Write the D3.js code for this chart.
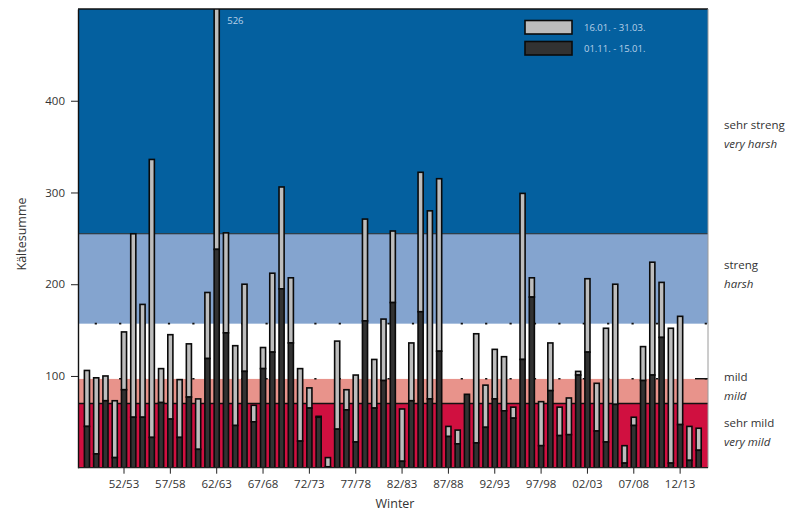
<!DOCTYPE html>
<html>
<head>
<meta charset="utf-8">
<script src="https://cdn.jsdelivr.net/npm/d3@7"></script>
<style>
  body { margin: 0; background: #fff; }
  svg text { font-family: "Open Sans", "Noto Sans", sans-serif; }
</style>
</head>
<body>
<svg id="chart" width="794" height="512"></svg>
<script>
const winters = ["48/49","49/50","50/51","51/52","52/53","53/54","54/55","55/56","56/57","57/58",
  "58/59","59/60","60/61","61/62","62/63","63/64","64/65","65/66","66/67","67/68",
  "68/69","69/70","70/71","71/72","72/73","73/74","74/75","75/76","76/77","77/78",
  "78/79","79/80","80/81","81/82","82/83","83/84","84/85","85/86","86/87","87/88",
  "88/89","89/90","90/91","91/92","92/93","93/94","94/95","95/96","96/97","97/98",
  "98/99","99/00","00/01","01/02","02/03","03/04","04/05","05/06","06/07","07/08",
  "08/09","09/10","10/11","11/12","12/13","13/14","14/15"];
// 01.11. - 15.01. (dark)
const early = [45,15,73,11,85,55,55,33,71,53,
  33,77,20,119,238,147,46,105,50,108,
  126,195,136,29,65,55,1,42,63,28,
  160,65,95,180,7,73,170,75,127,34,
  26,80,27,44,75,62,54,118,186,24,
  84,35,36,101,126,40,28,69,5,46,
  95,101,142,5,47,8,19];
// 16.01. - 31.03. (light)
const late = [61,83,27,62,63,200,123,303,37,92,
  63,58,55,72,288,109,87,95,18,23,
  86,111,71,79,22,1,10,96,22,73,
  111,53,67,78,57,63,152,205,188,11,
  15,0,119,46,54,59,12,181,21,48,
  52,31,40,4,80,52,124,131,19,9,
  37,123,60,147,118,37,24];
const tickWinters = ["52/53","57/58","62/63","67/68","72/73","77/78","82/83","87/88","92/93","97/98","02/03","07/08","12/13"];
const yTicks = [100,200,300,400];
const bandBreaks = [0,70,97,157,255,500];
const bandColors = ["#d01040","#e8938b","#ffffff","#84a4cf","#04609f"];
const classDe = ["sehr mild","mild","","streng","sehr streng"];
const classEn = ["very mild","mild","","harsh","very harsh"];
const legendLabels = ["16.01. - 31.03.","01.11. - 15.01."];

const svg = d3.select("#chart");
const L = 78, R = 708, T = 9, B = 467.7;

const x = d3.scaleBand().domain(winters).range([82.3, 703.3]).paddingInner(0.45).paddingOuter(0.225);
const y = d3.scaleLinear().domain([0, 500]).range([B, T]);

svg.append("defs").append("clipPath").attr("id","plotclip")
  .append("rect").attr("x", L).attr("y", T).attr("width", R - L).attr("height", B - T);

const g = svg.append("g");

// background bands
const bands = d3.range(bandColors.length).map(i => ({lo: bandBreaks[i], hi: bandBreaks[i+1], c: bandColors[i]}));
g.selectAll("rect.band").data(bands).join("rect")
  .attr("class","band")
  .attr("x", L).attr("width", R - L)
  .attr("y", d => y(d.hi)).attr("height", d => y(d.lo) - y(d.hi))
  .attr("fill", d => d.c);

// dotted boundaries
[97,157].forEach(v => {
  g.append("line").attr("x1", 94.7).attr("x2", R).attr("y1", y(v)).attr("y2", y(v))
    .attr("stroke","#111").attr("stroke-width",1.6).attr("stroke-dasharray","2.2,22.2");
});
g.append("line").attr("x1", 695).attr("x2", R).attr("y1", y(97)).attr("y2", y(97))
  .attr("stroke","#111").attr("stroke-width",1.4);
// solid boundaries
g.append("line").attr("x1", L).attr("x2", R).attr("y1", y(255)).attr("y2", y(255))
  .attr("stroke","#2a2a2a").attr("stroke-width",1.2);
g.append("line").attr("x1", L).attr("x2", R).attr("y1", y(70)).attr("y2", y(70))
  .attr("stroke","#111").attr("stroke-width",1.5);

// bars
const data = winters.map((w, i) => ({w, e: early[i], l: late[i]}));
const bars = g.append("g").attr("clip-path","url(#plotclip)");
bars.selectAll("rect.late").data(data).join("rect")
  .attr("class","late")
  .attr("x", d => x(d.w)).attr("width", x.bandwidth())
  .attr("y", d => y(d.e + d.l)).attr("height", d => y(d.e) - y(d.e + d.l))
  .attr("fill","#bdbdbd").attr("stroke","#0a0a0a").attr("stroke-width",1.6);
bars.selectAll("rect.early").data(data).join("rect")
  .attr("class","early")
  .attr("x", d => x(d.w)).attr("width", x.bandwidth())
  .attr("y", d => y(d.e)).attr("height", d => y(0) - y(d.e))
  .attr("fill","#323232").attr("stroke","#0a0a0a").attr("stroke-width",1.6);

// clipped value label
data.filter(d => d.e + d.l > 500).forEach(d => {
  g.append("text").attr("x", x(d.w) + x.bandwidth() + 8).attr("y", 24)
    .attr("font-size", 9.5).attr("fill","#b9d0e8").text(d3.format("d")(d.e + d.l));
});

// frame
g.append("line").attr("x1", L).attr("x2", R).attr("y1", T).attr("y2", T).attr("stroke","#111").attr("stroke-width",1.6);
g.append("line").attr("x1", R).attr("x2", R).attr("y1", T).attr("y2", B).attr("stroke","#9a9a9a").attr("stroke-width",1);

// axes
const yAxis = g.append("g").attr("transform", `translate(${L},0)`)
  .call(d3.axisLeft(y).tickValues(yTicks).tickSizeInner(7).tickSizeOuter(0).tickPadding(6));
yAxis.select(".domain").attr("stroke","#111").attr("stroke-width",1.4);
yAxis.selectAll(".tick line").attr("stroke","#222");
yAxis.selectAll(".tick text").attr("font-size",11.5).attr("fill","#333").attr("font-family","Open Sans");

const xAxis = g.append("g").attr("transform", `translate(0,${B})`)
  .call(d3.axisBottom(x).tickValues(tickWinters).tickSizeInner(6).tickSizeOuter(0).tickPadding(6));
xAxis.select(".domain").attr("d", `M${L},0H${R}`).attr("stroke","#222").attr("stroke-width",1.2);
xAxis.selectAll(".tick line").attr("stroke","#222");
xAxis.selectAll(".tick text").attr("font-size",11.5).attr("fill","#333").attr("font-family","Open Sans");

// axis titles
svg.append("text").attr("transform", `translate(26,234) rotate(-90)`).attr("text-anchor","middle")
  .attr("font-size",12.5).attr("fill","#333").text("Kältesumme");
svg.append("text").attr("x", 395).attr("y", 508).attr("text-anchor","middle")
  .attr("font-size",12.5).attr("fill","#333").text("Winter");

// class labels on right
const labelY = [423, 377, null, 265, 125];
bands.forEach((b, i) => {
  if (!classDe[i]) return;
  svg.append("text").attr("x", 724).attr("y", labelY[i] + 4).attr("font-size", 11.5).attr("fill","#333").text(classDe[i]);
  svg.append("text").attr("x", 724).attr("y", labelY[i] + 23).attr("font-size", 11.5).attr("fill","#333")
    .attr("font-style","italic").text(classEn[i]);
});

// legend
const legColors = ["#bdbdbd","#323232"];
legendLabels.forEach((t, i) => {
  svg.append("rect").attr("x", 525).attr("y", 20.5 + i * 21).attr("width", 47).attr("height", 13.5)
    .attr("fill", legColors[i]).attr("stroke","#0a0a0a").attr("stroke-width",1.6);
  svg.append("text").attr("x", 584).attr("y", 31 + i * 21).attr("font-size", 9.5).attr("fill","#b9d0e8").text(t);
});
</script>
</body>
</html>
